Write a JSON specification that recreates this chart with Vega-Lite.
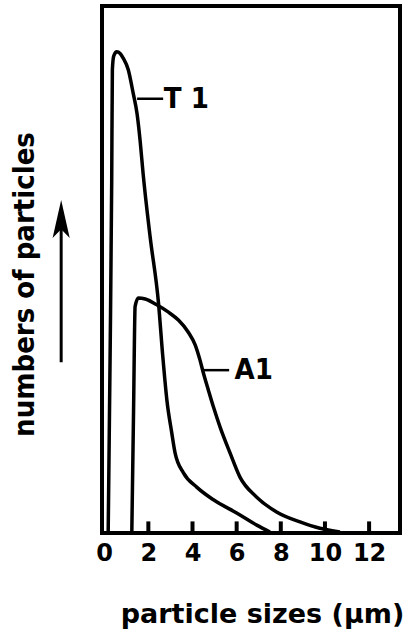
{
  "$schema": "https://vega.github.io/schema/vega-lite/v6.json",
  "width": 298,
  "height": 527,
  "autosize": "none",
  "padding": {"left": 102, "top": 6, "right": 9, "bottom": 105},
  "background": "white",
  "config": {
    "view": {"stroke": "black", "strokeWidth": 4},
    "axis": {"grid": false}
  },
  "datasets": {
    "curves": [
      {"series": "T1", "x": 0.18, "y": 0},
      {"series": "T1", "x": 0.27, "y": 34.7},
      {"series": "T1", "x": 0.34, "y": 67.0},
      {"series": "T1", "x": 0.37, "y": 87.9},
      {"series": "T1", "x": 0.43, "y": 90.5},
      {"series": "T1", "x": 0.57, "y": 91.3},
      {"series": "T1", "x": 0.72, "y": 91.0},
      {"series": "T1", "x": 0.86, "y": 90.1},
      {"series": "T1", "x": 1.09, "y": 87.9},
      {"series": "T1", "x": 1.31, "y": 83.5},
      {"series": "T1", "x": 1.49, "y": 79.5},
      {"series": "T1", "x": 1.63, "y": 74.3},
      {"series": "T1", "x": 1.76, "y": 68.3},
      {"series": "T1", "x": 2.08, "y": 56.2},
      {"series": "T1", "x": 2.46, "y": 43.6},
      {"series": "T1", "x": 2.65, "y": 33.7},
      {"series": "T1", "x": 2.84, "y": 25.2},
      {"series": "T1", "x": 3.06, "y": 19.0},
      {"series": "T1", "x": 3.21, "y": 15.2},
      {"series": "T1", "x": 3.59, "y": 11.4},
      {"series": "T1", "x": 4.19, "y": 8.7},
      {"series": "T1", "x": 4.95, "y": 6.3},
      {"series": "T1", "x": 6.00, "y": 3.8},
      {"series": "T1", "x": 6.91, "y": 1.5},
      {"series": "T1", "x": 7.51, "y": 0.2},
      {"series": "A1", "x": 1.25, "y": 0},
      {"series": "A1", "x": 1.33, "y": 23.3},
      {"series": "A1", "x": 1.40, "y": 43.0},
      {"series": "A1", "x": 1.55, "y": 44.6},
      {"series": "A1", "x": 1.86, "y": 44.4},
      {"series": "A1", "x": 2.38, "y": 43.3},
      {"series": "A1", "x": 2.91, "y": 41.9},
      {"series": "A1", "x": 3.36, "y": 40.4},
      {"series": "A1", "x": 3.81, "y": 38.1},
      {"series": "A1", "x": 4.12, "y": 35.7},
      {"series": "A1", "x": 4.34, "y": 32.8},
      {"series": "A1", "x": 4.49, "y": 30.4},
      {"series": "A1", "x": 4.72, "y": 27.1},
      {"series": "A1", "x": 4.95, "y": 23.9},
      {"series": "A1", "x": 5.25, "y": 20.1},
      {"series": "A1", "x": 5.70, "y": 15.2},
      {"series": "A1", "x": 6.15, "y": 10.6},
      {"series": "A1", "x": 6.91, "y": 6.8},
      {"series": "A1", "x": 7.81, "y": 4.0},
      {"series": "A1", "x": 8.87, "y": 2.1},
      {"series": "A1", "x": 9.77, "y": 0.9},
      {"series": "A1", "x": 10.68, "y": 0.2}
    ],
    "tickmarks": [
      {"tx": 2, "ty": 0.0, "ty2": 2.2},
      {"tx": 4, "ty": 0.0, "ty2": 2.2},
      {"tx": 6, "ty": 0.0, "ty2": 2.2},
      {"tx": 8, "ty": 0.0, "ty2": 2.2},
      {"tx": 10, "ty": 0.0, "ty2": 2.2},
      {"tx": 12, "ty": 0.0, "ty2": 2.2}
    ],
    "labels": [
      {"label": "T 1", "x": 1.49, "x2": 2.67, "lx": 2.7, "y": 82.4},
      {"label": "A1", "x": 4.52, "x2": 5.66, "lx": 5.9, "y": 30.9}
    ],
    "arrow": [
      {"x": -1.95, "y": 32.4, "y2": 58.0, "head": 59.6}
    ]
  },
  "layer": [
    {
      "data": {"name": "curves"},
      "mark": {"type": "line", "color": "black", "strokeWidth": 3.5, "interpolate": "monotone", "strokeJoin": "round"},
      "encoding": {
        "x": {
          "field": "x", "type": "quantitative",
          "scale": {"domain": [-0.1, 13.4], "nice": false, "zero": false},
          "axis": {
            "values": [0, 2, 4, 6, 8, 10, 12],
            "domain": false,
            "ticks": false,
            "labelFont": "DejaVu Sans",
            "labelFontWeight": "bold",
            "labelFontSize": 24,
            "labelColor": "black",
            "labelPadding": 8,
            "labelFlush": false,
            "title": "particle sizes (μm)",
            "titleFont": "DejaVu Sans",
            "titleFontWeight": "bold",
            "titleFontSize": 27,
            "titleColor": "black",
            "titleX": 160,
            "titleY": 89,
            "titleAlign": "center",
            "titleBaseline": "alphabetic"
          }
        },
        "y": {
          "field": "y", "type": "quantitative",
          "scale": {"domain": [0, 100], "nice": false},
          "axis": {
            "domain": false,
            "ticks": false,
            "labels": false,
            "title": "numbers of particles",
            "titleFont": "DejaVu Sans Condensed",
            "titleFontWeight": "bold",
            "titleFontSize": 29,
            "titleColor": "black",
            "titleAngle": -90,
            "titleX": -78,
            "titleY": 278,
            "titleAlign": "center",
            "titleBaseline": "middle"
          }
        },
        "detail": {"field": "series"}
      }
    },
    {
      "data": {"name": "tickmarks"},
      "mark": {"type": "rule", "color": "black", "strokeWidth": 4, "strokeCap": "butt"},
      "encoding": {
        "x": {"field": "tx", "type": "quantitative"},
        "y": {"field": "ty", "type": "quantitative"},
        "y2": {"field": "ty2"}
      }
    },
    {
      "data": {"name": "labels"},
      "mark": {"type": "rule", "color": "black", "strokeWidth": 2.5},
      "encoding": {
        "x": {"field": "x", "type": "quantitative"},
        "x2": {"field": "x2"},
        "y": {"field": "y", "type": "quantitative"}
      }
    },
    {
      "data": {"name": "labels"},
      "mark": {"type": "text", "align": "left", "baseline": "middle", "font": "DejaVu Sans Condensed", "fontWeight": "bold", "fontSize": 29, "color": "black"},
      "encoding": {
        "x": {"field": "lx", "type": "quantitative"},
        "y": {"field": "y", "type": "quantitative"},
        "text": {"field": "label"}
      }
    },
    {
      "data": {"name": "arrow"},
      "mark": {"type": "rule", "color": "black", "strokeWidth": 3},
      "encoding": {
        "x": {"field": "x", "type": "quantitative"},
        "y": {"field": "y", "type": "quantitative"},
        "y2": {"field": "y2"}
      }
    },
    {
      "data": {"name": "arrow"},
      "mark": {"type": "point", "filled": true, "color": "black", "opacity": 1, "shape": "M0,-1L0.45,1L0,0.55L-0.45,1Z", "size": 1444},
      "encoding": {
        "x": {"field": "x", "type": "quantitative"},
        "y": {"field": "head", "type": "quantitative"}
      }
    }
  ]
}
